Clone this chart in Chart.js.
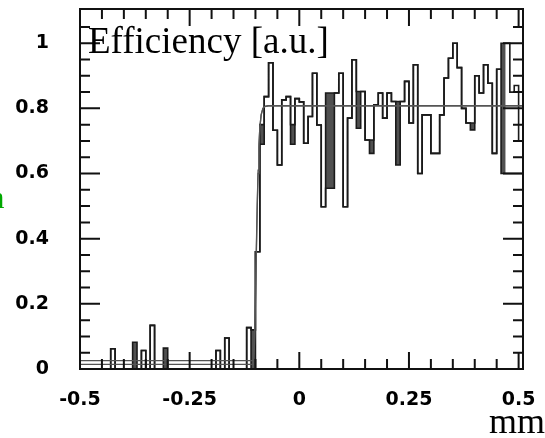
<!DOCTYPE html>
<html>
<head>
<meta charset="utf-8">
<script src="https://cdn.jsdelivr.net/npm/chart.js@4.4.1/dist/chart.umd.min.js"></script>
<style>
  html, body { margin: 0; padding: 0; background: #fff; }
  #eff { display: block; }
</style>
</head>
<body>
<canvas id="eff" width="545" height="438"></canvas>
<script>
// histogram binning: 101 bins of 0.01 mm starting at -0.5 mm
const binLow = -0.5;
const binWidth = 0.01;

// efficiency per bin, two overlaid histograms
const effA = [
  0, 0, 0, 0, 0, 0, 0, 0.062, 0, 0,
  0, 0, 0.082, 0, 0.057, 0, 0.134, 0, 0, 0.064,
  0, 0, 0, 0, 0, 0, 0, 0, 0, 0,
  0, 0.057, 0, 0.095, 0, 0, 0, 0, 0.127, 0.12,
  0.36, 0.75, 0.836, 0.94, 0.733, 0.626, 0.826, 0.836, 0.75, 0.83,
  0.82, 0.693, 0.775, 0.908, 0.749, 0.498, 0.847, 0.847, 0.847, 0.908,
  0.498, 0.77, 0.949, 0.852, 0.852, 0.703, 0.703, 0.811, 0.847, 0.77,
  0.847, 0.821, 0.821, 0.821, 0.883, 0.755, 0.934, 0.60, 0.78, 0.78,
  0.662, 0.662, 0.78, 0.893, 0.954, 1.0, 0.925, 0.80, 0.755, 0.755,
  0.90, 0.847, 0.934, 0.877, 0.662, 0.92, 1.0, 1.0, 0.85, 0.87,
  0.70
];
const effB = [
  0, 0, 0, 0, 0, 0, 0, 0.062, 0, 0,
  0, 0, 0, 0, 0.057, 0, 0.134, 0, 0, 0,
  0, 0, 0, 0, 0, 0, 0, 0, 0, 0,
  0, 0.057, 0, 0.095, 0, 0, 0, 0, 0.127, 0,
  0.36, 0.69, 0.836, 0.94, 0.733, 0.626, 0.826, 0.836, 0.69, 0.83,
  0.82, 0.693, 0.775, 0.908, 0.749, 0.498, 0.555, 0.555, 0.847, 0.908,
  0.498, 0.77, 0.949, 0.739, 0.852, 0.703, 0.662, 0.811, 0.847, 0.77,
  0.847, 0.821, 0.626, 0.821, 0.883, 0.755, 0.934, 0.60, 0.78, 0.78,
  0.662, 0.662, 0.78, 0.893, 0.954, 1.0, 0.925, 0.80, 0.755, 0.734,
  0.90, 0.847, 0.934, 0.877, 0.662, 0.92, 0.6, 0.6, 0.6, 0.6,
  0.6
];
// bins where the two histograms are shaded between
const shadedBins = [12, 19, 39, 41, 48, 56, 57, 63, 66, 72, 89, 96];

// error-function fits (two curves, different lower plateau)
const fitX = [-0.5, -0.105, -0.102, -0.1, -0.098, -0.096, -0.094, -0.092, -0.09, -0.087, -0.083, -0.078, -0.07, 0.51];
const fitUpper = [0.026, 0.026, 0.1, 0.22, 0.37, 0.5, 0.61, 0.69, 0.74, 0.78, 0.8, 0.806, 0.808, 0.808];
const fitLower = [0.014, 0.014, 0.08, 0.2, 0.35, 0.49, 0.6, 0.68, 0.74, 0.78, 0.8, 0.806, 0.808, 0.808];

// axes
const xLabels = [-0.5, -0.25, 0, 0.25, 0.5];
const xMinor = [-0.45, -0.4, -0.35, -0.3, -0.2, -0.15, -0.1, -0.05, 0.05, 0.1, 0.15, 0.2, 0.3, 0.35, 0.4, 0.45];
const yLabels = [0, 0.2, 0.4, 0.6, 0.8, 1];
const yMinor = [0.05, 0.1, 0.15, 0.25, 0.3, 0.35, 0.45, 0.5, 0.55, 0.65, 0.7, 0.75, 0.85, 0.9, 0.95, 1.05];

function histPoints(vals) {
  const pts = vals.map((v, k) => ({ x: binLow + k * binWidth, y: v }));
  pts.push({ x: binLow + vals.length * binWidth, y: vals[vals.length - 1] });
  return pts;
}

const shadeHi = effA.map((v, k) => shadedBins.includes(k) ? v : 0);
const shadeLo = effB.map((v, k) => shadedBins.includes(k) ? v : 0);

const fitPoints = (ys) => fitX.map((x, i) => ({ x: x, y: ys[i] }));

// frame, inward ticks on all four sides and the free text
const frameAndTicks = {
  id: 'frameAndTicks',
  afterDatasetsDraw(chart) {
    const { ctx, chartArea: a, scales: { x, y } } = chart;
    ctx.save();
    ctx.strokeStyle = '#111';
    ctx.lineWidth = 2;
    ctx.beginPath();
    const xTick = (v, len) => {
      const px = x.getPixelForValue(v);
      ctx.moveTo(px, a.bottom); ctx.lineTo(px, a.bottom - len);
      ctx.moveTo(px, a.top); ctx.lineTo(px, a.top + len);
    };
    const yTick = (v, len) => {
      const py = y.getPixelForValue(v);
      ctx.moveTo(a.left, py); ctx.lineTo(a.left + len, py);
      ctx.moveTo(a.right, py); ctx.lineTo(a.right - len, py);
    };
    xLabels.forEach(v => xTick(v, 17));
    xMinor.forEach(v => xTick(v, 10));
    yLabels.forEach(v => yTick(v, 20));
    yMinor.forEach(v => yTick(v, 10));
    ctx.stroke();
    ctx.strokeRect(a.left, a.top, a.width, a.height);

    ctx.fillStyle = '#000';
    ctx.textBaseline = 'alphabetic';
    ctx.textAlign = 'left';
    ctx.font = '37px "Liberation Serif"';
    ctx.fillText('Efficiency [a.u.]', 88, 53);
    ctx.textAlign = 'right';
    ctx.font = '36px "Liberation Serif"';
    ctx.fillText('mm', 545, 433);
    ctx.fillStyle = '#00a800';
    ctx.font = '32px "Liberation Serif"';
    ctx.fillText('n', 4.5, 208);
    ctx.restore();
  }
};

const tickFont = { family: '"DejaVu Sans"', size: 19, weight: 'bold' };

new Chart(document.getElementById('eff'), {
  type: 'line',
  data: {
    datasets: [
      {
        data: histPoints(shadeLo),
        stepped: true,
        borderWidth: 0,
        pointRadius: 0,
        fill: false,
        order: 5
      },
      {
        data: histPoints(shadeHi),
        stepped: true,
        borderWidth: 0,
        pointRadius: 0,
        backgroundColor: '#505050',
        fill: '-1',
        order: 4
      },
      {
        data: histPoints(effB),
        stepped: true,
        borderColor: '#1a1a1a',
        borderWidth: 1.6,
        pointRadius: 0,
        fill: false,
        order: 3
      },
      {
        data: histPoints(effA),
        stepped: true,
        borderColor: '#1a1a1a',
        borderWidth: 1.6,
        pointRadius: 0,
        fill: false,
        order: 2
      },
      {
        data: fitPoints(fitUpper),
        borderColor: '#555',
        borderWidth: 1.3,
        pointRadius: 0,
        fill: false,
        order: 1
      },
      {
        data: fitPoints(fitLower),
        borderColor: '#555',
        borderWidth: 1.3,
        pointRadius: 0,
        fill: false,
        order: 1
      }
    ]
  },
  options: {
    responsive: false,
    animation: false,
    devicePixelRatio: 1,
    layout: { padding: { top: 9, right: 22, left: 0, bottom: 0 } },
    plugins: { legend: { display: false }, tooltip: { enabled: false } },
    scales: {
      x: {
        type: 'linear',
        min: -0.5,
        max: 0.51,
        grid: { display: false },
        border: { display: false },
        afterFit: (s) => { s.height = 69; s.paddingLeft = 0; s.paddingRight = 0; },
        afterBuildTicks: (s) => { s.ticks = xLabels.map(v => ({ value: v })); },
        ticks: {
          color: '#000',
          font: tickFont,
          padding: 12,
          maxRotation: 0,
          autoSkip: false,
          callback: (v) => String(v)
        }
      },
      y: {
        type: 'linear',
        min: 0,
        max: 1.105,
        grid: { display: false },
        border: { display: false },
        afterFit: (s) => { s.width = 80; s.paddingTop = 0; s.paddingBottom = 0; },
        afterBuildTicks: (s) => { s.ticks = yLabels.map(v => ({ value: v })); },
        ticks: {
          color: '#000',
          font: tickFont,
          padding: 23,
          autoSkip: false,
          callback: (v) => String(v)
        }
      }
    }
  },
  plugins: [frameAndTicks]
});
</script>
</body>
</html>
